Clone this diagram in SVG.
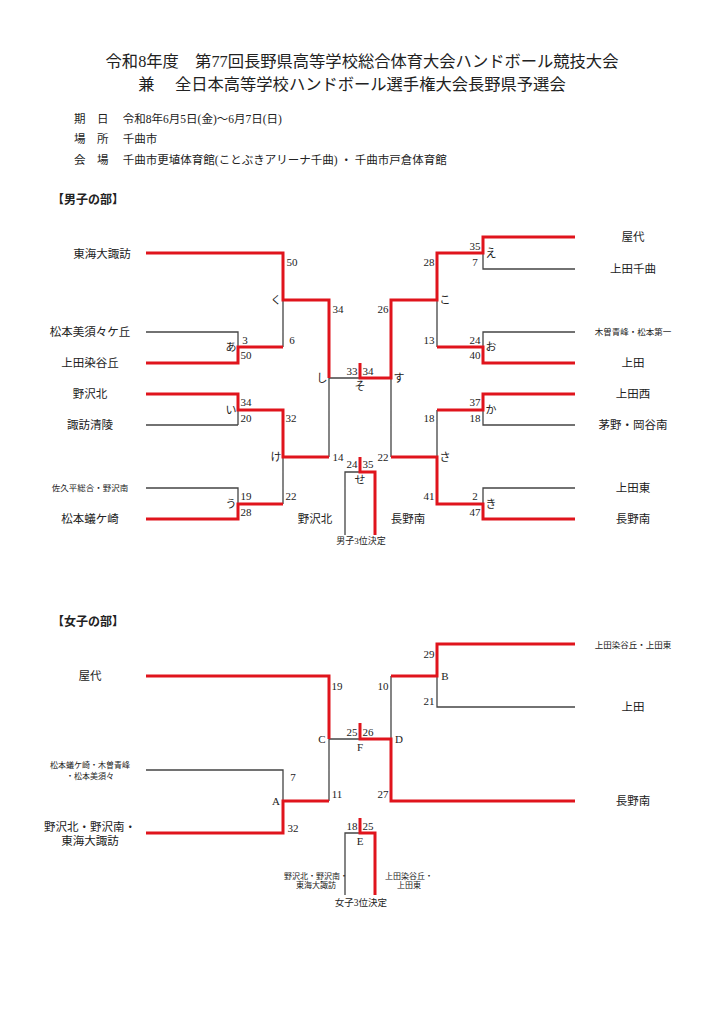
<svg xmlns="http://www.w3.org/2000/svg" width="724" height="1024" viewBox="0 0 724 1024">
<style>
text{font-family:"Liberation Serif","Noto Sans CJK JP",serif;fill:#222}
.t{font-size:16.3px;text-anchor:middle}
.i{font-size:11.5px}
.h{font-size:12px;font-weight:bold}
.n{font-size:11px;text-anchor:middle}
.s{font-size:10px}
.xs{font-size:8px;text-anchor:middle}
.g{stroke:#444;stroke-width:1.3;fill:none}
.r{stroke:#e0141c;stroke-width:3;fill:none}
</style>
<rect width="724" height="1024" fill="#fff"/>
<g id="header">
<text class="t" x="362" y="67">令和8年度　第77回長野県高等学校総合体育大会ハンドボール競技大会</text>
<text class="t" x="352" y="90">兼　 全日本高等学校ハンドボール選手権大会長野県予選会</text>
<text class="i" x="74" y="123">期　日　 令和8年6月5日(金)～6月7日(日)</text>
<text class="i" x="74" y="143">場　所　 千曲市</text>
<text class="i" x="74" y="164">会　場　 千曲市更埴体育館(ことぶきアリーナ千曲) ・ 千曲市戸倉体育館</text>
<text class="h" x="52" y="204">【男子の部】</text>
<text class="h" x="52" y="626">【女子の部】</text>
</g>
<g id="connectors">
<path class="g" d="M146 332H238V347M238 425H146M238 410V425M146 488H238V504M283 347V300M283 410V504M329 378V457M329 378H360M575 269H483V253M575 332H483V347M575 425H483V410M575 488H483V504M437 253V300M437 300V347M437 410V457M391 378V457M345 535V472H360"/>
<path class="r" d="M146 253H283V300H329V378M146 363H238V347H283M146 394H238V410H283V457H329M146 519H238V504H283M575 237H483V253H437V300H391V378H360V363M575 363H483V347H437M575 394H483V410H437M575 519H483V504H437V457H391M360 457V472H375V535"/>
<path class="g" d="M146 770H283V801M329 739V801M329 739H360M391 676V739M575 707H437V676M345 895V833H360"/>
<path class="r" d="M146 676H329V739M146 833H283V801H329M360 723V739H391V801H575M391 676H437V644H575M360 818V833H375V895"/>
</g>
<g id="men-teams" class="i">
<text x="102" y="258" text-anchor="middle">東海大諏訪</text>
<text x="90" y="336" text-anchor="middle">松本美須々ケ丘</text>
<text x="90" y="367" text-anchor="middle">上田染谷丘</text>
<text x="90" y="398" text-anchor="middle">野沢北</text>
<text x="90" y="429" text-anchor="middle">諏訪清陵</text>
<text x="90" y="491" text-anchor="middle" style="font-size:8.5px">佐久平総合・野沢南</text>
<text x="90" y="523" text-anchor="middle">松本蟻ケ崎</text>
<text x="633" y="241" text-anchor="middle">屋代</text>
<text x="633" y="273" text-anchor="middle">上田千曲</text>
<text x="633" y="335" text-anchor="middle" style="font-size:8.5px">木曽青峰・松本第一</text>
<text x="633" y="367" text-anchor="middle">上田</text>
<text x="633" y="398" text-anchor="middle">上田西</text>
<text x="633" y="429" text-anchor="middle">茅野・岡谷南</text>
<text x="633" y="492" text-anchor="middle">上田東</text>
<text x="633" y="523" text-anchor="middle">長野南</text>
<text x="315" y="523" text-anchor="middle">野沢北</text>
<text x="408" y="523" text-anchor="middle">長野南</text>
<text x="361" y="544" text-anchor="middle" style="font-size:9px">男子3位決定</text>
</g>
<g id="men-scores" class="n">
<text x="292" y="266">50</text><text x="276" y="304">く</text><text x="292" y="344">6</text>
<text x="245" y="344">3</text><text x="231" y="351">あ</text><text x="246" y="359">50</text>
<text x="246" y="406">34</text><text x="231" y="414">い</text><text x="246" y="422">20</text>
<text x="291" y="422">32</text><text x="276" y="461">け</text><text x="291" y="500">22</text>
<text x="246" y="500">19</text><text x="231" y="508">う</text><text x="246" y="516">28</text>
<text x="338" y="313">34</text><text x="322" y="382">し</text><text x="338" y="461">14</text>
<text x="352" y="375">33</text><text x="368" y="375">34</text><text x="360" y="390">そ</text>
<text x="352" y="468">24</text><text x="368" y="468">35</text><text x="360" y="484">せ</text>
<text x="383" y="313">26</text><text x="399" y="382">す</text><text x="383" y="461">22</text>
<text x="429" y="266">28</text><text x="445" y="304">こ</text><text x="429" y="344">13</text>
<text x="475" y="250">35</text><text x="491" y="257">え</text><text x="475" y="266">7</text>
<text x="475" y="344">24</text><text x="491" y="351">お</text><text x="475" y="359">40</text>
<text x="475" y="406">37</text><text x="491" y="414">か</text><text x="475" y="422">18</text>
<text x="429" y="422">18</text><text x="445" y="461">さ</text><text x="429" y="500">41</text>
<text x="475" y="500">2</text><text x="491" y="508">き</text><text x="475" y="516">47</text>
</g>
<g id="women-teams" class="i">
<text x="90" y="680" text-anchor="middle">屋代</text>
<text x="90" y="768" text-anchor="middle" style="font-size:8px">松本蟻ケ崎・木曽青峰</text>
<text x="90" y="779" text-anchor="middle" style="font-size:8px">・松本美須々</text>
<text x="90" y="831" text-anchor="middle">野沢北・野沢南・</text>
<text x="90" y="845" text-anchor="middle">東海大諏訪</text>
<text x="633" y="648" text-anchor="middle" style="font-size:8.5px">上田染谷丘・上田東</text>
<text x="633" y="711" text-anchor="middle">上田</text>
<text x="633" y="805" text-anchor="middle">長野南</text>
<text class="xs" x="316" y="879">野沢北・野沢南・</text>
<text class="xs" x="316" y="888">東海大諏訪</text>
<text class="xs" x="409" y="879">上田染谷丘・</text>
<text class="xs" x="409" y="888">上田東</text>
<text x="361" y="906" text-anchor="middle" style="font-size:9.5px">女子3位決定</text>
</g>
<g id="women-scores" class="n">
<text x="337" y="690">19</text><text x="322" y="743">C</text><text x="337" y="798">11</text>
<text x="293" y="781">7</text><text x="276" y="805">A</text><text x="293" y="832">32</text>
<text x="352" y="736">25</text><text x="368" y="736">26</text><text x="360" y="751">F</text>
<text x="399" y="743">D</text><text x="383" y="690">10</text><text x="383" y="798">27</text>
<text x="429" y="658">29</text><text x="445" y="680">B</text><text x="429" y="705">21</text>
<text x="352" y="830">18</text><text x="368" y="830">25</text><text x="360" y="845">E</text>
</g>
</svg>
